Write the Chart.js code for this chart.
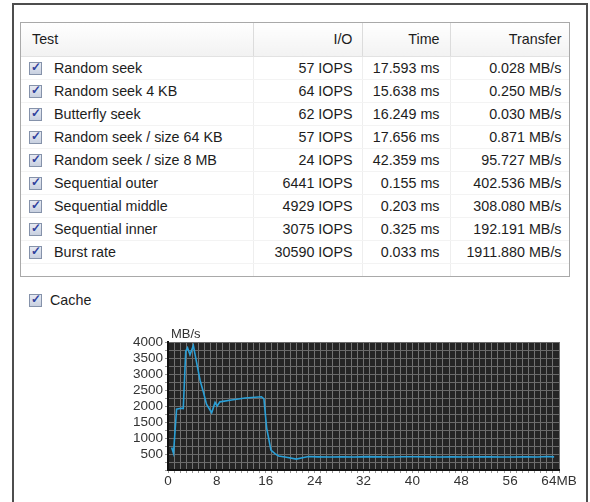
<!DOCTYPE html>
<html lang="en">
<head>
  <meta charset="UTF-8" />
  <title>Disk benchmark</title>
  <script src="https://cdn.jsdelivr.net/npm/chart.js"></script>
  <style>
    body { margin: 0; background: #fff; width: 590px; height: 502px; overflow: hidden; position: relative;
           font-family: "Liberation Sans", Arial, sans-serif; color: #1d1d1d; }
    #frame { position: absolute; left: 12px; top: 3px; width: 572px; height: 520px; border: 2px solid #4d4d4d; }
    #box { position: absolute; left: 20px; top: 22px; width: 548px; height: 253px; border: 1px solid #a9a9a9; background: #fff; overflow: hidden; }
    table { border-collapse: collapse; table-layout: fixed; width: 548px; font-size: 14.3px; }
    th { height: 31px; font-weight: normal; text-align: right; background: linear-gradient(#fff, #f2f2f2);
         border-right: 1px solid #dcdcdc; border-bottom: 1px solid #e2e2e2; padding: 0 9px 2px 0; }
    th:first-child { text-align: left; padding-left: 11px; }
    td { height: 22px; text-align: right; border-right: 1px solid #eeeeee; border-bottom: 1px solid #f3f3f3; padding: 0 9px 0 0; white-space: nowrap; }
    td:first-child { text-align: left; padding-left: 8px; }
    td:nth-child(3), th:nth-child(3) { padding-right: 10px; }
    td:nth-child(4), th:nth-child(4) { padding-right: 7px; }
    .cb { display: inline-block; width: 11px; height: 11px; border: 1px solid #8592aa; background: linear-gradient(#e6eaf2, #c8d0e0);
          vertical-align: -2px; margin-right: 12px; position: relative; }
    .cb::after { content: "\2713"; position: absolute; left: 1px; top: -3px; font-size: 12px; font-weight: bold; color: #2e3f9c; }
    #cache { position: absolute; left: 29px; top: 292px; font-size: 14.3px; }
    #cache .cb { margin-right: 8px; }
    #wrap { position: absolute; left: 100px; top: 322px; width: 485px; height: 175px; }
  </style>
</head>
<body>
  <div id="frame"></div>
  <div id="box">
    <table id="results">
      <colgroup><col style="width:232px"><col style="width:109px"><col style="width:88px"><col style="width:119px"></colgroup>
      <thead><tr><th>Test</th><th>I/O</th><th>Time</th><th>Transfer</th></tr></thead>
      <tbody></tbody>
    </table>
  </div>
  <div id="cache"><span class="cb"></span>Cache</div>
  <div id="wrap"><canvas id="rateChart"></canvas></div>

  <script>
    // table values
    const testNames = ["Random seek", "Random seek 4 KB", "Butterfly seek", "Random seek / size 64 KB",
      "Random seek / size 8 MB", "Sequential outer", "Sequential middle", "Sequential inner", "Burst rate"];
    const ioValues = ["57 IOPS", "64 IOPS", "62 IOPS", "57 IOPS", "24 IOPS", "6441 IOPS", "4929 IOPS", "3075 IOPS", "30590 IOPS"];
    const timeValues = ["17.593 ms", "15.638 ms", "16.249 ms", "17.656 ms", "42.359 ms", "0.155 ms", "0.203 ms", "0.325 ms", "0.033 ms"];
    const transferValues = ["0.028 MB/s", "0.250 MB/s", "0.030 MB/s", "0.871 MB/s", "95.727 MB/s", "402.536 MB/s",
      "308.080 MB/s", "192.191 MB/s", "1911.880 MB/s"];

    // transfer curve (position in MB, rate in MB/s)
    const positionMB = [0.6, 0.9, 1.4, 2.1, 2.5, 2.9, 3.2, 3.6, 4.15, 4.7, 5.25, 5.8, 6.3, 7.15, 7.7, 8.05, 8.5,
      10.4, 12.6, 15.3, 15.7, 16.15, 16.85, 17.5, 18.1, 19.4, 21.0, 22.0, 23.0, 24.5, 26.5, 28.5, 30.5,
      32.5, 34.5, 36.5, 38.5, 40.5, 42.5, 44.5, 46.5, 48.5, 50.5, 52.5, 54.5, 56.5, 58.5, 60.5, 62.0, 63.2];
    const rateMBs = [700, 520, 1900, 1930, 1920, 3710, 3820, 3600, 3890, 3340, 2800, 2430, 2060, 1790, 2110, 2000, 2130,
      2190, 2250, 2290, 2220, 1310, 620, 510, 440, 400, 340, 380, 420, 410, 405, 412, 408,
      418, 410, 405, 412, 415, 410, 405, 412, 408, 415, 410, 405, 408, 412, 405, 420, 410];

    const xTicks = [0, 8, 16, 24, 32, 40, 48, 56, 64];

    const tbody = document.querySelector("#results tbody");
    testNames.forEach((name, i) => {
      const tr = document.createElement("tr");
      tr.innerHTML = '<td><span class="cb"></span>' + name + '</td><td>' + ioValues[i] + '</td><td>' +
        timeValues[i] + '</td><td>' + transferValues[i] + '</td>';
      tbody.appendChild(tr);
    });
    const pad = document.createElement("tr");
    pad.innerHTML = '<td style="height:14px"></td><td></td><td></td><td></td>';
    tbody.appendChild(pad);

    const plotBg = {
      id: "plotBg",
      beforeDraw(chart) {
        const a = chart.chartArea, c = chart.ctx;
        c.save();
        c.fillStyle = "#252525";
        c.fillRect(a.left, a.top, a.right - a.left, a.bottom - a.top);
        c.fillStyle = "#333";
        c.font = "13px 'Liberation Sans', Arial, sans-serif";
        c.textBaseline = "bottom";
        c.fillText("MB/s", a.left + 3, a.top - 1);
        c.restore();
      }
    };

    Chart.defaults.font.family = "'Liberation Sans', Arial, sans-serif";
    Chart.defaults.font.size = 13.5;
    Chart.defaults.color = "#333";

    new Chart(document.getElementById("rateChart"), {
      type: "line",
      data: {
        datasets: [{
          data: positionMB.map((x, i) => ({ x: x, y: rateMBs[i] })),
          borderColor: "#2a9fd6",
          borderWidth: 1.6,
          pointRadius: 0,
          tension: 0,
          fill: false
        }]
      },
      options: {
        responsive: true,
        maintainAspectRatio: false,
        animation: false,
        layout: { padding: { left: 0, right: 26, top: 20, bottom: 5 } },
        plugins: { legend: { display: false }, tooltip: { enabled: false } },
        scales: {
          x: {
            type: "linear", min: 0, max: 64,
            afterFit(s) { s.height = 22; },
            border: { color: "#111", width: 2 },
            grid: { color: "#727272", lineWidth: 1, tickLength: 3, tickColor: "#999" },
            ticks: {
              stepSize: 1, autoSkip: false, maxRotation: 0, padding: 0,
              callback: v => xTicks.includes(v) ? (v === 64 ? "64MB" : String(v)) : ""
            }
          },
          y: {
            min: 0, max: 4000,
            afterFit(s) { s.width = 68; },
            border: { color: "#111", width: 2 },
            grid: { color: "#6a6a6a", lineWidth: 1, tickLength: 3, tickColor: "#999" },
            ticks: {
              stepSize: 250, autoSkip: false, padding: 2,
              callback: v => (v > 0 && v % 500 === 0) ? String(v) : ""
            }
          }
        }
      },
      plugins: [plotBg]
    });
  </script>
</body>
</html>
